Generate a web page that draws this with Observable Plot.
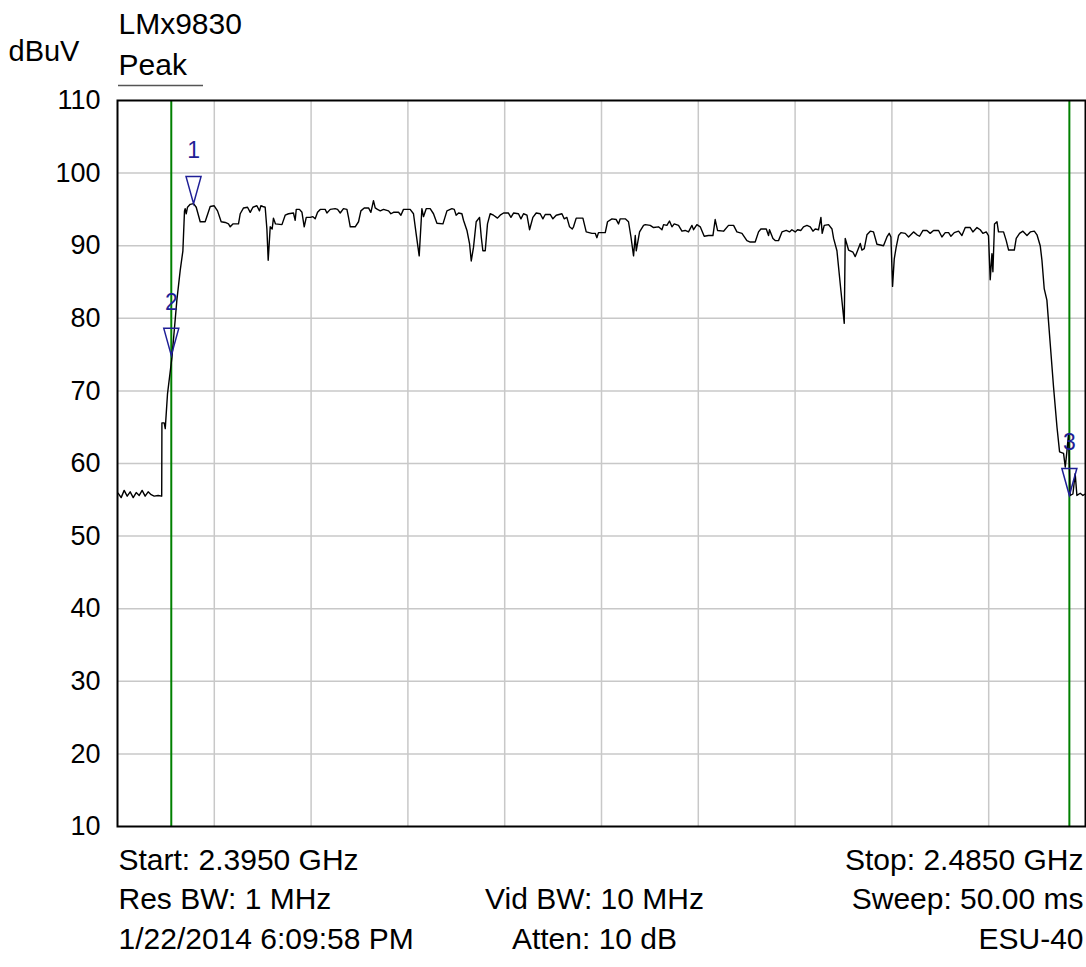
<!DOCTYPE html>
<html>
<head>
<meta charset="utf-8">
<script src="https://cdn.jsdelivr.net/npm/d3@7"></script>
<script src="https://cdn.jsdelivr.net/npm/@observablehq/plot@0.6"></script>
<style>
  html, body { margin: 0; padding: 0; background: #fff; }
  #chart { width: 1086px; height: 967px; }
</style>
</head>
<body>
<div id="chart"></div>
<script>
// ---- data ----
const startMHz = 2395;
const stopMHz = 2485;
// offsets (MHz from start) of trace points
const offsetMHz = [
0.07,0.34,0.62,0.90,1.18,1.46,1.74,2.02,2.29,2.57,2.85,3.13,3.41,3.78,4.11,4.13,4.34,4.44,4.65,5.06,
5.52,5.83,6.08,6.23,6.29,6.39,6.51,6.76,7.07,7.32,7.69,8.15,8.62,8.99,9.30,9.64,10.02,10.32,10.48,10.73,
11.25,11.41,11.72,12.09,12.34,12.59,12.96,13.20,13.33,13.52,13.73,13.89,14.01,14.20,14.38,14.50,14.69,15.29,15.59,15.90,
16.36,16.52,16.62,16.92,17.15,17.36,17.55,17.92,18.17,18.38,18.60,18.85,19.31,19.47,19.78,20.24,20.46,20.71,21.01,21.33,
21.48,21.64,22.10,22.41,22.63,22.94,23.34,23.56,23.80,23.96,24.17,24.43,24.73,25.20,25.42,25.66,26.13,26.35,26.59,27.21,
27.52,27.77,28.05,28.30,28.45,28.70,29.07,29.38,29.70,30.26,30.63,31.09,31.31,31.49,31.71,32.02,32.17,32.49,32.73,32.89,
33.10,33.35,33.66,33.82,33.97,34.19,34.40,34.65,34.96,35.33,35.58,35.89,36.35,36.58,36.82,37.28,37.51,37.75,38.07,38.31,
38.62,38.93,39.30,39.55,39.77,40.23,40.48,40.79,41.32,41.53,41.78,42.03,42.28,42.40,42.65,43.27,43.58,44.11,44.42,44.57,
44.72,45.35,45.56,45.97,46.37,46.58,46.74,47.21,47.51,47.74,47.98,48.14,48.23,48.54,48.91,49.07,49.53,49.84,50.30,50.62,
50.77,51.08,51.32,51.55,51.76,52.16,52.48,52.78,53.09,53.41,53.56,53.87,54.18,54.55,54.95,55.36,55.57,55.79,56.35,56.81,
57.28,57.59,58.06,58.52,58.83,59.29,59.60,59.82,60.32,60.53,60.62,60.94,61.15,61.46,61.78,62.18,62.48,62.70,63.01,63.23,
63.54,63.78,64.10,64.41,64.66,64.87,65.18,65.40,65.52,65.71,66.11,66.43,66.58,66.89,67.26,67.57,67.66,67.97,68.38,68.59,
68.75,69.06,69.21,69.43,69.68,69.99,70.29,70.61,71.22,71.54,71.75,71.91,72.06,72.22,72.40,72.62,72.84,73.24,73.55,74.01,
74.33,74.57,74.89,75.26,75.56,75.87,76.34,76.65,76.96,77.27,77.49,77.80,78.20,78.51,78.82,79.28,79.53,79.91,80.21,80.46,
80.77,80.98,81.14,81.30,81.39,81.54,81.77,81.91,82.38,82.63,82.85,83.38,83.56,83.87,84.18,84.56,84.87,85.24,85.49,85.79,
85.95,86.16,86.41,86.72,87.03,87.35,87.59,87.96,88.12,88.28,88.42,88.58,88.83,89.04,89.20,89.51,89.76,89.98
];
// trace levels (dBuV)
const levelDBuV = [
55.9,55.3,56.3,55.5,56.1,55.3,56.0,55.6,56.3,55.5,56.1,55.7,55.5,55.6,55.5,65.6,65.6,64.8,69.6,74.6,
82.5,86.6,89.3,94.8,95.1,94.4,95.3,95.7,95.8,95.3,93.3,93.3,95.4,95.5,94.8,93.3,93.2,93.0,92.6,93.0,
93.0,94.4,95.2,95.3,94.6,95.3,95.5,94.8,95.5,95.4,95.3,92.3,88.0,92.6,92.3,93.8,93.0,92.9,94.2,94.4,
94.5,93.5,95.0,95.0,94.6,92.6,93.9,93.9,94.0,93.7,94.6,95.0,95.0,94.5,95.0,95.1,95.0,94.5,95.1,95.0,
93.9,92.6,92.6,93.3,94.8,95.2,95.2,94.6,96.2,95.2,95.0,94.8,95.0,94.8,94.4,94.6,94.6,94.2,95.0,95.0,
94.4,91.6,88.6,95.1,94.0,95.1,95.1,94.4,93.1,93.0,94.8,95.1,95.0,94.2,94.5,94.4,93.5,92.1,90.3,87.9,
89.8,93.3,93.9,91.2,89.3,89.3,93.0,94.4,94.2,93.8,94.2,94.5,94.5,93.9,94.5,94.4,93.7,94.4,94.2,92.2,
93.9,94.5,94.4,93.7,94.3,94.3,93.7,94.2,94.4,93.7,93.9,92.6,92.3,92.6,93.8,93.8,91.9,91.7,91.7,91.1,
91.8,91.8,93.3,93.7,93.6,93.0,93.7,93.7,93.3,91.2,88.6,91.4,89.3,91.9,92.8,92.9,92.8,92.5,92.6,92.2,
92.9,92.8,93.4,92.6,93.0,92.8,92.0,92.1,91.9,92.8,92.2,92.9,92.6,91.3,91.4,91.4,93.6,92.1,92.0,92.8,
92.8,91.9,91.7,90.7,90.5,90.5,91.9,92.3,92.3,91.4,92.2,91.0,90.7,90.7,91.9,92.1,91.9,92.2,91.9,92.2,
92.1,92.6,92.8,92.6,92.0,92.3,92.2,93.9,91.7,92.8,92.9,92.3,91.0,89.3,83.8,79.3,91.0,89.4,89.1,88.5,
89.1,90.3,89.4,89.6,91.5,92.0,91.9,90.2,90.0,91.2,91.7,91.2,84.4,88.2,89.8,91.4,91.8,91.7,91.2,91.9,
91.5,91.3,92.1,92.1,91.7,92.1,92.1,91.2,91.8,91.8,91.3,91.8,92.0,91.4,92.5,92.5,91.9,92.5,92.2,91.7,
91.9,91.4,85.3,88.9,86.4,93.0,93.3,91.9,91.9,90.7,89.4,89.4,91.0,91.7,92.0,91.4,91.9,92.0,91.5,90.0,
88.0,84.1,82.5,76.5,70.5,65.0,61.6,61.4,59.5,61.8,64.1,55.6,55.8,58.6,55.6,55.9,55.6,55.8
];
// markers
const markerNames = ["1", "2", "3"];
const markerMHz = [2402.07, 2400.0, 2483.5];
const markerDBuV = [95.8, 74.9, 55.6];
// display lines (green)
const lineMHz = [2400.0, 2483.5];
// ticks
const yTicks = [10, 20, 30, 40, 50, 60, 70, 80, 90, 100, 110];
const yGrid = [20, 30, 40, 50, 60, 70, 80, 90, 100];
const xGrid = [2404, 2413, 2422, 2431, 2440, 2449, 2458, 2467, 2476];
// texts
const instrument = "LMx9830";
const detector = "Peak";
const unitLabel = "dBuV";
const infoLeft = ["Start: 2.3950 GHz", "Res BW: 1 MHz", "1/22/2014 6:09:58 PM"];
const infoMid = ["", "Vid BW: 10 MHz", "Atten: 10 dB"];
const infoRight = ["Stop: 2.4850 GHz", "Sweep: 50.00 ms", "ESU-40"];

// ---- build tables ----
const trace = offsetMHz.map((o, i) => ({f: startMHz + o, v: levelDBuV[i]}));
const markers = markerNames.map((n, i) => ({n, f: markerMHz[i], v: markerDBuV[i]}));
const rowDy = [43, 82, 122];
const rows = (arr) => arr.map((t, i) => ({t, dy: rowDy[i]})).filter(d => d.t);

const downTriangle = {
  draw(ctx) {
    ctx.moveTo(0, 0);
    ctx.lineTo(-7.5, -27);
    ctx.lineTo(7.5, -27);
    ctx.closePath();
  }
};
const blue = "#1f1f96";
const font = "'Liberation Sans', Arial, Helvetica, sans-serif";
const fs = 30;

const infoMarks = [];
for (const d of rows(infoLeft)) infoMarks.push(Plot.text([d.t], {frameAnchor: "bottom-left", textAnchor: "start", dx: 1, dy: d.dy, fontSize: fs, fill: "black"}));
for (const d of rows(infoMid)) infoMarks.push(Plot.text([d.t], {frameAnchor: "bottom", textAnchor: "middle", dx: -7, dy: d.dy, fontSize: fs, fill: "black"}));
for (const d of rows(infoRight)) infoMarks.push(Plot.text([d.t], {frameAnchor: "bottom-right", textAnchor: "end", dx: -2, dy: d.dy, fontSize: fs, fill: "black"}));

const chart = Plot.plot({
  width: 1086,
  height: 967,
  marginLeft: 117,
  marginRight: 1,
  marginTop: 100,
  marginBottom: 141,
  style: {fontFamily: font, fontSize: "27px", color: "black", background: "white", overflow: "visible"},
  x: {domain: [startMHz, stopMHz], axis: null},
  y: {domain: [10, 110]},
  marks: [
    Plot.gridX(xGrid, {stroke: "#c8c8c8", strokeOpacity: 1, strokeWidth: 1.5}),
    Plot.gridY(yGrid, {stroke: "#c8c8c8", strokeOpacity: 1, strokeWidth: 1.5}),
    Plot.axisY(yTicks, {tickSize: 0, tickPadding: 17, fontSize: 27, label: null, fill: "black"}),
    Plot.ruleX(lineMHz, {stroke: "#008000", strokeWidth: 2}),
    Plot.line(trace, {x: "f", y: "v", stroke: "black", strokeWidth: 1.4}),
    Plot.frame({stroke: "black", strokeWidth: 2}),
    Plot.dot(markers, {x: "f", y: "v", symbol: downTriangle, fill: "none", stroke: blue, strokeWidth: 1.5}),
    Plot.text(markers, {x: "f", y: "v", text: "n", dy: -53, fill: blue, fontSize: 23}),
    Plot.text([instrument], {frameAnchor: "top-left", textAnchor: "start", dx: 1, dy: -88, fontSize: fs, fill: "black"}),
    Plot.text([detector], {frameAnchor: "top-left", textAnchor: "start", dx: 1, dy: -47, fontSize: fs, fill: "black"}),
    Plot.text([unitLabel], {frameAnchor: "top-left", textAnchor: "start", dx: -109, dy: -60, fontSize: 29, fill: "black"}),
    ...infoMarks
  ]
});
document.getElementById("chart").appendChild(chart);
// underline beneath the detector label
d3.select(chart).append("line")
  .attr("x1", 118).attr("x2", 203).attr("y1", 85.5).attr("y2", 85.5)
  .attr("stroke", "#555").attr("stroke-width", 1.5);
</script>
</body>
</html>
